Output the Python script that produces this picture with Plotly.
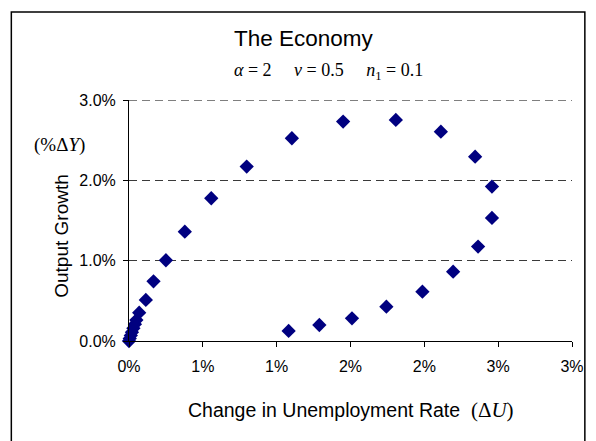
import plotly.graph_objects as go

# Change in unemployment rate (fraction) and output growth (fraction)
du = [0.0000, 0.00005, 0.00012, 0.0002, 0.0003, 0.0004, 0.0005, 0.00069,
      0.00114, 0.00166, 0.00250, 0.00378, 0.00557, 0.00797, 0.01103,
      0.01450, 0.01807, 0.02112, 0.02344, 0.02458, 0.02458, 0.02364,
      0.02195, 0.01987, 0.01743, 0.01510, 0.01289, 0.01081]
dy = [0.0000, 0.0003, 0.0007, 0.0011, 0.0016, 0.0021, 0.0026, 0.00352,
      0.00511, 0.00743, 0.01005, 0.01361, 0.01777, 0.02171, 0.02524,
      0.02731, 0.02752, 0.02606, 0.02295, 0.01922, 0.01532, 0.01175,
      0.00863, 0.00614, 0.00427, 0.00282, 0.00199, 0.00125]

x_tickvals = [0, 0.005, 0.01, 0.015, 0.02, 0.025, 0.03]
x_ticktext = ["0%", "1%", "1%", "2%", "2%", "3%", "3%"]
y_tickvals = [0, 0.01, 0.02, 0.03]
y_ticktext = ["0.0%", "1.0%", "2.0%", "3.0%"]

W, H = 596, 441
L, T = 129, 100
pw, ph = 448, 241
R, B = W - L - pw, H - T - ph

def px(x):
    return (x - L) / pw

def py(y):
    return (T + ph - y) / ph

GRID = "#3a3a3a"
DASH = "8px,5px"

fig = go.Figure()
fig.add_trace(go.Scatter(
    x=du, y=dy, mode="markers",
    marker=dict(symbol="diamond", size=11, color="#000080",
                line=dict(width=0)),
    showlegend=False, cliponaxis=False, hoverinfo="skip",
))

sans = "Liberation Sans, Arial, sans-serif"
serif = "Liberation Serif, Times New Roman, serif"

# top gridline (at the range edge plotly omits it)
shapes = [dict(type="line", xref="paper", yref="y", x0=0, x1=1,
               y0=y_tickvals[-1], y1=y_tickvals[-1],
               line=dict(color="#000000", width=1.2, dash=DASH), layer="below"),
          dict(type="rect", xref="paper", yref="paper",
               x0=px(10), x1=px(590), y0=py(470), y1=py(12),
               line=dict(color="black", width=1.5), layer="below")]

fig.update_layout(
    width=W, height=H,
    margin=dict(l=L, r=R, t=T, b=B),
    paper_bgcolor="white", plot_bgcolor="white",
    font=dict(family=sans, color="black", size=16),
    hovermode=False,
    xaxis=dict(range=[0, 0.03], tickvals=x_tickvals, ticktext=x_ticktext,
               showgrid=False, zeroline=False, showline=True,
               linecolor="black", linewidth=1, ticks="outside",
               ticklen=5, tickcolor="black", tickfont=dict(size=16),
               ticklabelstandoff=6),
    yaxis=dict(range=[0, 0.03], tickvals=y_tickvals, ticktext=y_ticktext,
               showgrid=True, gridcolor=GRID, griddash=DASH,
               gridwidth=1, zeroline=False, showline=True,
               linecolor="black", linewidth=1, ticks="outside",
               ticklen=5, tickcolor="black", tickfont=dict(size=16),
               ticklabelstandoff=4),
    shapes=shapes,
    annotations=[
        dict(text="The Economy", xref="paper", yref="paper",
             x=px(306), y=py(38), xanchor="center", yanchor="middle",
             showarrow=False, font=dict(size=22.5, family=sans)),
        dict(text="<i>α</i> = 2 &nbsp;&nbsp;&nbsp; <i>v</i> = 0.5 &nbsp;&nbsp;&nbsp; <i>n</i><sub>1</sub> = 0.1",
             xref="paper", yref="paper", x=px(331), y=py(71),
             xanchor="center", yanchor="middle",
             showarrow=False, font=dict(size=18, family=serif)),
        dict(text="(%Δ<i>Y</i>)", xref="paper", yref="paper",
             x=px(59), y=py(145), xanchor="center", yanchor="middle",
             showarrow=False, font=dict(size=19, family=serif)),
        dict(text="Output Growth", xref="paper", yref="paper",
             x=px(60), y=py(236), xanchor="center", yanchor="middle",
             showarrow=False, textangle=-90,
             font=dict(size=19, family=sans)),
        dict(text="Change in Unemployment Rate &nbsp;<span style='font-family:Liberation Serif;font-size:21px'>(Δ<i>U</i>)</span>",
             xref="paper", yref="paper", x=px(353), y=py(410),
             xanchor="center", yanchor="middle",
             showarrow=False, font=dict(size=19.5, family=sans)),
    ],
)

fig.write_html("out.html",
               config={"displayModeBar": False, "staticPlot": True},
               post_script="document.body.style.margin='0px';"
                           "document.body.style.overflow='hidden';")
